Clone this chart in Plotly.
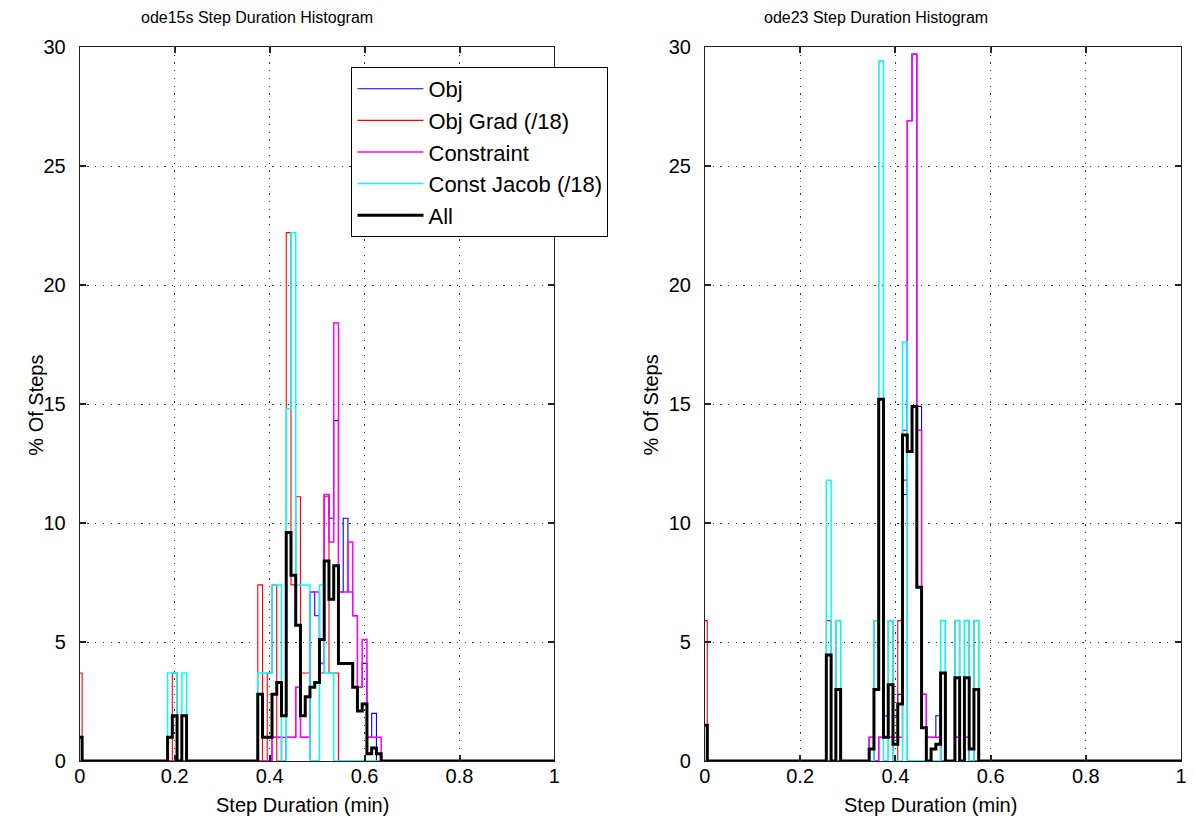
import numpy as np
import plotly.graph_objects as go

# ---------------- data (bin centre -> % of steps) ----------------
bin_centers = np.round(np.arange(101) * 0.01, 2)
x_ticks = [0, 0.2, 0.4, 0.6, 0.8, 1]
x_tick_text = ["0", "0.2", "0.4", "0.6", "0.8", "1"]
y_ticks = [0, 5, 10, 15, 20, 25, 30]
y_tick_text = ["0", "5", "10", "15", "20", "25", "30"]
series_names = ["Obj", "Obj Grad (/18)", "Constraint", "Const Jacob (/18)", "All"]
titles = ["ode15s Step Duration Histogram", "ode23 Step Duration Histogram"]
x_label = "Step Duration (min)"
y_label = "% Of Steps"

# ode15s (left)
l_obj_bins = [0.41, 0.42, 0.43, 0.44, 0.45, 0.46, 0.47, 0.48, 0.49, 0.50, 0.51, 0.52, 0.53, 0.54, 0.55, 0.56, 0.57, 0.58, 0.59, 0.60, 0.61, 0.62]
l_obj_pct = [1.0, 1.0, 1.0, 1.0, 1.0, 3.1, 1.0, 1.0, 7.1, 6.1, 4.1, 11.2, 10.2, 14.3, 7.1, 10.2, 7.1, 6.1, 3.1, 4.1, 1.0, 2.0]
l_grad_bins = [0.00, 0.20, 0.38, 0.40, 0.41, 0.44, 0.45, 0.46, 0.47, 0.48, 0.51, 0.52, 0.53, 0.54]
l_grad_pct = [3.7, 3.7, 7.4, 3.7, 7.4, 22.2, 7.4, 11.1, 3.7, 3.7, 3.7, 11.1, 3.7, 3.7]
l_con_bins = [0.41, 0.42, 0.44, 0.45, 0.46, 0.47, 0.48, 0.49, 0.50, 0.51, 0.52, 0.53, 0.54, 0.55, 0.56, 0.57, 0.58, 0.59, 0.60, 0.61, 0.62, 0.63]
l_con_pct = [1.0, 1.0, 1.0, 1.0, 3.1, 1.0, 1.0, 7.1, 7.1, 4.1, 11.2, 9.2, 18.4, 7.1, 7.1, 9.2, 6.1, 3.1, 5.1, 1.0, 1.0, 1.0]
l_jac_bins = [0.19, 0.20, 0.22, 0.38, 0.39, 0.40, 0.41, 0.42, 0.44, 0.45, 0.46, 0.47, 0.48, 0.51, 0.52, 0.53]
l_jac_pct = [3.7, 3.7, 3.7, 3.7, 3.7, 3.7, 7.4, 7.4, 14.8, 22.2, 7.4, 7.4, 7.4, 7.4, 3.7, 3.7]
l_all_bins = [0.00, 0.19, 0.20, 0.22, 0.38, 0.39, 0.40, 0.41, 0.42, 0.43, 0.44, 0.45, 0.46, 0.47, 0.48, 0.49, 0.50, 0.51, 0.52, 0.53, 0.54, 0.55, 0.56, 0.57, 0.58, 0.59, 0.60, 0.61, 0.62, 0.63]
l_all_pct = [1.0, 1.0, 1.9, 1.9, 2.8, 1.0, 1.0, 2.8, 3.3, 1.9, 9.6, 7.8, 5.7, 1.9, 2.7, 3.1, 3.3, 5.1, 8.4, 6.8, 8.2, 4.1, 4.1, 4.1, 3.1, 2.1, 2.4, 0.3, 0.55, 0.3]

# ode23 (right)
r_obj_bins = [0.35, 0.37, 0.38, 0.39, 0.40, 0.41, 0.42, 0.43, 0.44, 0.45, 0.46, 0.47, 0.48, 0.49, 0.53, 0.55]
r_obj_pct = [1.0, 1.0, 1.9, 1.0, 1.9, 2.8, 11.2, 26.9, 29.7, 14.9, 2.8, 1.0, 1.0, 1.9, 1.0, 1.0]
r_grad_bins = [0.00, 0.26, 0.28, 0.36, 0.37, 0.39, 0.41, 0.42, 0.50, 0.53, 0.55, 0.57]
r_grad_pct = [5.9, 5.9, 5.9, 5.9, 29.4, 5.9, 5.9, 11.8, 5.9, 5.9, 5.9, 5.9]
r_con_bins = [0.35, 0.37, 0.38, 0.39, 0.40, 0.41, 0.42, 0.43, 0.44, 0.45, 0.46, 0.47, 0.48, 0.49, 0.53, 0.55]
r_con_pct = [1.0, 1.0, 1.9, 1.0, 1.0, 1.0, 13.9, 26.9, 29.7, 13.9, 2.8, 1.0, 1.0, 1.0, 1.0, 1.0]
r_jac_bins = [0.26, 0.28, 0.36, 0.37, 0.39, 0.42, 0.50, 0.53, 0.55, 0.57]
r_jac_pct = [11.8, 5.9, 5.9, 29.4, 5.9, 17.6, 5.9, 5.9, 5.9, 5.9]
r_all_bins = [0.00, 0.26, 0.28, 0.35, 0.36, 0.37, 0.38, 0.39, 0.40, 0.41, 0.42, 0.43, 0.44, 0.45, 0.46, 0.48, 0.49, 0.50, 0.53, 0.55, 0.56, 0.57]
r_all_pct = [1.5, 4.45, 3.0, 0.5, 3.0, 15.2, 1.0, 3.2, 0.7, 2.4, 13.7, 13.0, 14.9, 7.3, 1.4, 0.5, 0.7, 3.7, 3.5, 3.5, 0.5, 3.0]

# ---------------- helpers ----------------
BIN_W = 0.01


def full_counts(bins, pct):
    arr = np.zeros(len(bin_centers))
    for b, p in zip(bins, pct):
        arr[int(round(b / BIN_W))] = p
    return arr


def stairs(vals):
    xs = np.append(bin_centers - BIN_W / 2, bin_centers[-1] + BIN_W / 2)
    ys = np.append(vals, vals[-1])
    return xs, ys


colors = ["#0000FF", "#FF0000", "#FF00FF", "#00FFFF", "#000000"]
widths = [1.1, 1.1, 1.5, 1.5, 3]

left = [(l_obj_bins, l_obj_pct), (l_grad_bins, l_grad_pct), (l_con_bins, l_con_pct),
        (l_jac_bins, l_jac_pct), (l_all_bins, l_all_pct)]
right = [(r_obj_bins, r_obj_pct), (r_grad_bins, r_grad_pct), (r_con_bins, r_con_pct),
         (r_jac_bins, r_jac_pct), (r_all_bins, r_all_pct)]

fig = go.Figure()
for panel, (xa, ya, show) in zip([left, right], [("x", "y", True), ("x2", "y2", False)]):
    for i, (b, p) in enumerate(panel):
        xs, ys = stairs(full_counts(b, p))
        fig.add_trace(go.Scatter(
            x=xs, y=ys, mode="lines", line=dict(shape="hv", color=colors[i], width=widths[i]),
            name=series_names[i], showlegend=show, legendgroup=series_names[i],
            xaxis=xa, yaxis=ya, hoverinfo="skip"))

FONT = "Liberation Sans, Arial, Helvetica, sans-serif"
W, H = 1195, 827
TOP, BOTTOM = 47, 761
PH = BOTTOM - TOP
tick_font = dict(family=FONT, size=20, color="#000000")
label_font = dict(family=FONT, size=20, color="#000000")
title_font = dict(family=FONT, size=16, color="#000000")

axis_common = dict(
    showline=True, linecolor="#222222", linewidth=1, mirror="ticks",
    ticks="inside", ticklen=6, tickcolor="#222222", tickwidth=1.5,
    showgrid=True, gridcolor="#333333", gridwidth=1.3, griddash="1.3px,6.4px",
    zeroline=False, tickfont=tick_font,
)

xdom_l = [74.5 / W, 554 / W]
xdom_r = [706 / W, 1187 / W]


def py(px):
    return (BOTTOM - px) / PH


ann = []
for cx, t in zip([253.5, 878.5], titles):
    ann.append(dict(text=t, x=cx / W, y=py(18), xref="paper", yref="paper", xanchor="center",
                    yanchor="middle", showarrow=False, font=title_font))
for cx in [300, 933.5]:
    ann.append(dict(text=x_label, x=cx / W, y=py(805), xref="paper", yref="paper", xanchor="center",
                    yanchor="middle", showarrow=False, font=label_font))
for cx in [30, 652]:
    ann.append(dict(text=y_label, x=cx / W, y=py(405), xref="paper", yref="paper", xanchor="center",
                    yanchor="middle", textangle=-90, showarrow=False, font=label_font))

fig.update_layout(
    width=W, height=H,
    margin=dict(l=0, r=0, t=TOP, b=H - BOTTOM),
    paper_bgcolor="white", plot_bgcolor="white",
    font=dict(family=FONT, size=15, color="#000000"),
    showlegend=True,
    legend=dict(x=349 / W, y=py(67), xanchor="left", yanchor="top",
                bordercolor="#000000", borderwidth=1, bgcolor="white",
                font=dict(family=FONT, size=22), tracegroupgap=0, itemwidth=66),
    xaxis=dict(domain=xdom_l, range=[0, 1], tickvals=x_ticks, ticktext=x_tick_text,
               ticklabelstandoff=-3, anchor="y", **axis_common),
    yaxis=dict(domain=[0, 1], range=[0, 30], tickvals=y_ticks, ticktext=y_tick_text,
               ticklabelstandoff=9, anchor="x", **axis_common),
    xaxis2=dict(domain=xdom_r, range=[0, 1], tickvals=x_ticks, ticktext=x_tick_text,
                ticklabelstandoff=-3, anchor="y2", **axis_common),
    yaxis2=dict(domain=[0, 1], range=[0, 30], tickvals=y_ticks, ticktext=y_tick_text,
                ticklabelstandoff=9, anchor="x2", **axis_common),
    annotations=ann,
)

fig.write_html("out.html")
